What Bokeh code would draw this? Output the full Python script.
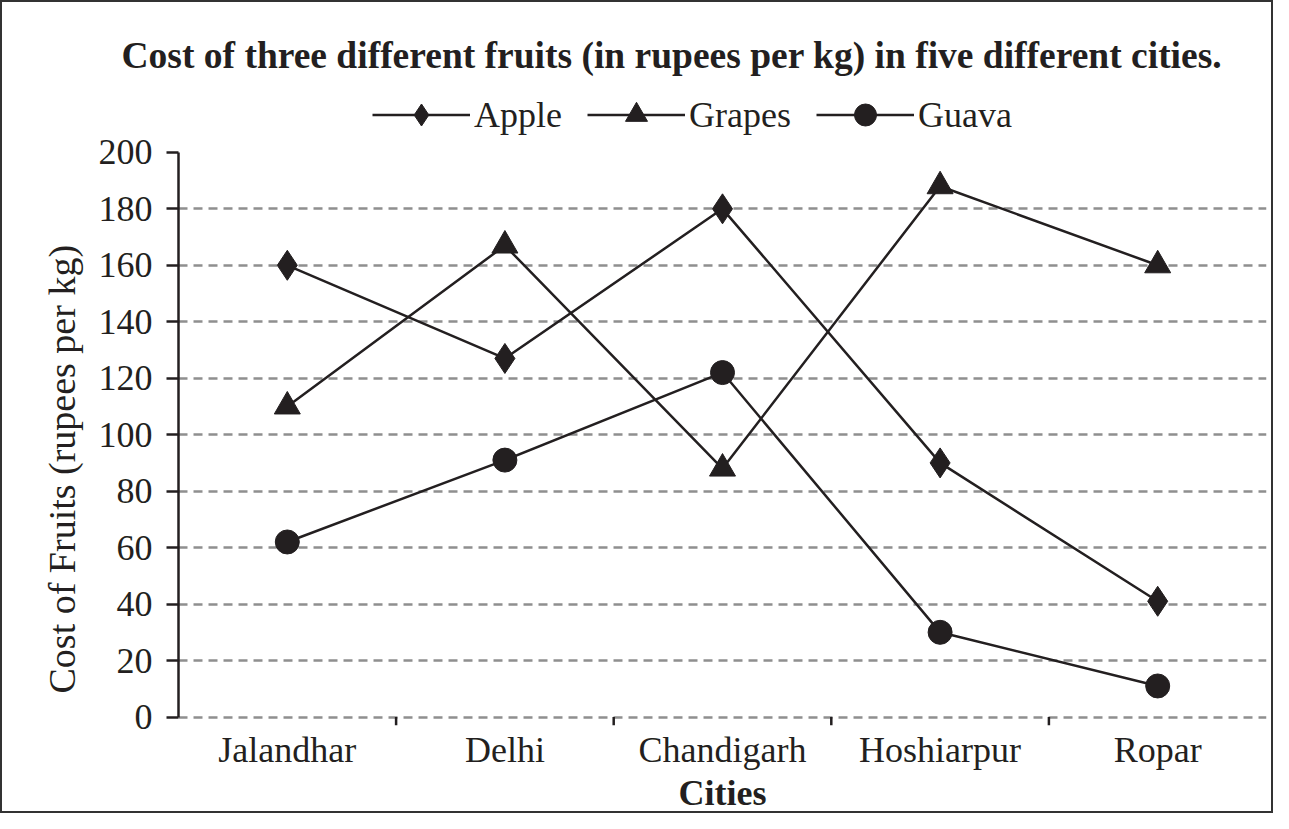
from bokeh.plotting import figure
from bokeh.models import (ColumnDataSource, FactorRange, Range1d, LinearAxis, CategoricalAxis,
                          FixedTicker, Legend, LegendItem, Grid, Title)
from bokeh.transform import dodge
from bokeh.embed import file_html
from bokeh.resources import INLINE

# ---- data ----
cities = ["Jalandhar", "Delhi", "Chandigarh", "Hoshiarpur", "Ropar"]
apple = [160, 127, 180, 90, 41]
grapes = [110, 167, 88, 188, 160]
guava = [62, 91, 122, 30, 11]
y_ticks = [0, 20, 40, 60, 80, 100, 120, 140, 160, 180, 200]
grid_ticks = [0, 20, 40, 60, 80, 100, 120, 140, 160, 180]

title_text = "Cost of three different fruits (in rupees per kg) in five different cities."
y_label = "Cost of Fruits (rupees per kg)"
x_label = "Cities"

INK = "#231f20"
FONT = "Liberation Serif"
TICK_LEN = 3      # x tick length, in y units below zero
Y_TOP = 225.8     # headroom above 200 for the legend row

src = ColumnDataSource(dict(city=cities, apple=apple, grapes=grapes, guava=guava))
bsrc = ColumnDataSource(dict(city=cities[:-1]))

p = figure(width=1273, height=813,
           x_range=FactorRange(factors=cities, range_padding=0),
           y_range=Range1d(-TICK_LEN, Y_TOP),
           output_backend="svg", toolbar_location=None,
           x_axis_location=None, y_axis_location=None,
           min_border_left=176, min_border_right=9,
           min_border_top=77, min_border_bottom=88)
p.outline_line_color = None
p.background_fill_color = "white"
p.border_fill_color = "white"
p.styles = {"border": "2px solid #333333"}
for g in list(p.renderers) + list(p.center):
    if isinstance(g, Grid):
        g.visible = False

# title
p.title.text = title_text
p.title.align = "left"
p.title.offset = -57
p.title.standoff = 8
p.title.text_font = FONT
p.title.text_font_size = "37.5px"
p.title.text_font_style = "bold"
p.title.text_color = INK

# grid
grid = Grid(dimension=1, ticker=FixedTicker(ticks=grid_ticks),
            grid_line_color="#8f8f8f", grid_line_width=2.5, grid_line_dash="9 6")
p.add_layout(grid)

# y axis
yaxis = LinearAxis(ticker=FixedTicker(ticks=y_ticks), bounds=(0, 200))
yaxis.axis_line_color = INK
yaxis.axis_line_width = 2.5
yaxis.major_tick_line_color = INK
yaxis.major_tick_line_width = 2.5
yaxis.major_tick_out = 12
yaxis.major_tick_in = 0
yaxis.minor_tick_line_color = None
yaxis.major_label_text_font = FONT
yaxis.major_label_text_font_size = "36px"
yaxis.major_label_text_color = INK
yaxis.major_label_standoff = 14
p.add_layout(yaxis, "left")

ytitle = Title(text=y_label, align="left", offset=32, standoff=26,
               text_font=FONT, text_font_size="38px", text_font_style="normal",
               text_color=INK)
p.add_layout(ytitle, "left")

# boundary tick marks between categories
p.segment(x0=dodge("city", 0.5, range=p.x_range), x1=dodge("city", 0.5, range=p.x_range),
          y0=0, y1=-TICK_LEN, source=bsrc, line_color=INK, line_width=2.5)

cat_axis = CategoricalAxis()
cat_axis.axis_line_color = None
cat_axis.major_tick_line_color = None
cat_axis.major_tick_out = 0
cat_axis.major_tick_in = 0
cat_axis.major_label_text_font = FONT
cat_axis.major_label_text_font_size = "36px"
cat_axis.major_label_text_color = INK
cat_axis.major_label_standoff = 4
cat_axis.axis_label = x_label
cat_axis.axis_label_text_font = FONT
cat_axis.axis_label_text_font_size = "36px"
cat_axis.axis_label_text_font_style = "bold"
cat_axis.axis_label_text_color = INK
cat_axis.axis_label_standoff = 0
p.add_layout(cat_axis, "below")

# series
la = p.line(x="city", y="apple", source=src, line_color=INK, line_width=2.5)
sa = p.scatter(x="city", y="apple", source=src, marker="diamond", size=30,
               fill_color=INK, line_color=INK)
lg = p.line(x="city", y="grapes", source=src, line_color=INK, line_width=2.5)
sg = p.scatter(x="city", y="grapes", source=src, marker="triangle", size=26,
               fill_color=INK, line_color=INK)
lv = p.line(x="city", y="guava", source=src, line_color=INK, line_width=2.5)
sv = p.scatter(x="city", y="guava", source=src, marker="circle", size=24,
               fill_color=INK, line_color=INK)

legend = Legend(items=[LegendItem(label="Apple", renderers=[la, sa]),
                       LegendItem(label="Grapes", renderers=[lg, sg]),
                       LegendItem(label="Guava", renderers=[lv, sv])],
                orientation="horizontal", location=(194, 583),
                glyph_width=98, glyph_height=55, label_standoff=4, spacing=25,
                padding=8, margin=0,
                label_text_font=FONT, label_text_font_size="36px", label_text_color=INK,
                border_line_color=None, background_fill_alpha=0)
p.add_layout(legend, "center")

open("out.html", "w").write(file_html(p, INLINE))
